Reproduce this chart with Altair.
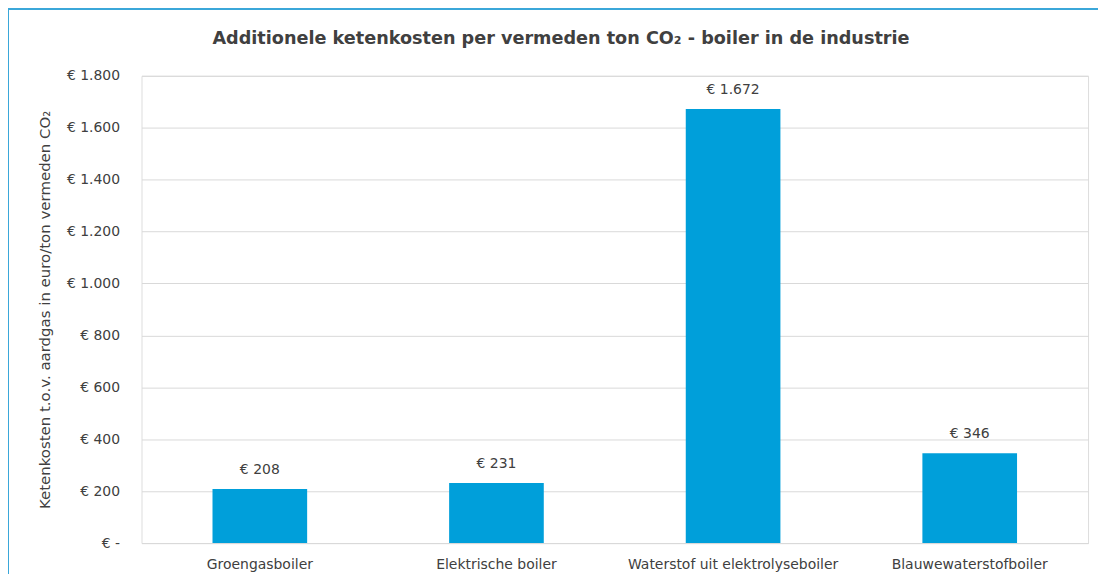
import altair as alt
import pandas as pd

categories = ["Groengasboiler", "Elektrische boiler", "Waterstof uit elektrolyseboiler", "Blauwewaterstofboiler"]
values = [208, 231, 1672, 346]
value_labels = ["€ 208", "€ 231", "€ 1.672", "€ 346"]
y_ticks = [0, 200, 400, 600, 800, 1000, 1200, 1400, 1600, 1800]
title_text = "Additionele ketenkosten per vermeden ton CO₂ - boiler in de industrie"

df = pd.DataFrame({"cat": categories, "val": values, "lab": value_labels})

FONT = "DejaVu Sans"
TXT = "#404040"

x = alt.X("cat:N", sort=categories, title=None,
          scale=alt.Scale(paddingInner=0.6, paddingOuter=0.3),
          axis=alt.Axis(labelAngle=0, labelFontSize=14, labelColor=TXT, labelFont=FONT,
                        ticks=False, domainColor="#d9d9d9", labelPadding=15, labelLimit=400))
y = alt.Y("val:Q", title="Ketenkosten t.o.v. aardgas in euro/ton vermeden CO₂",
          scale=alt.Scale(domain=[0, 1800], nice=False),
          axis=alt.Axis(values=y_ticks, grid=True, gridColor="#d9d9d9", domain=False, ticks=False,
                        labelExpr="datum.value == 0 ? '€ -' : '€ ' + replace(format(datum.value, ',d'), ',', '.')",
                        labelFontSize=14, labelColor=TXT, labelFont=FONT, labelPadding=22,
                        titleFontSize=15, titleColor=TXT, titleFont=FONT, titleFontWeight="normal",
                        titlePadding=14))

bars = alt.Chart(df).mark_bar(color="#009FDA").encode(x=x, y=y)
texts = alt.Chart(df).mark_text(dy=-19, fontSize=14, color=TXT, font=FONT).encode(
    x=alt.X("cat:N", sort=categories), y="val:Q", text="lab:N")

title = alt.Chart(pd.DataFrame({"t": [title_text]})).mark_text(
    fontSize=17.7, fontWeight="bold", color=TXT, font=FONT, baseline="middle").encode(
    x=alt.value(421), y=alt.value(-37), text="t:N")

frame_top = alt.Chart(df).mark_rule(color="#3BA7D9", strokeWidth=2).encode(
    x=alt.value(-134), x2=alt.value(970), y=alt.value(-67))
frame_left = alt.Chart(df).mark_rule(color="#3BA7D9", strokeWidth=2).encode(
    x=alt.value(-134), y=alt.value(-67), y2=alt.value(520))

chart = alt.layer(bars, texts, title, frame_top, frame_left).properties(
    width=950, height=469,
    autosize=alt.AutoSizeParams(type="none"),
    padding={"left": 134, "top": 67, "right": 10, "bottom": 30},
).configure_view(stroke="#d9d9d9").configure(background="white")

chart.save("out.html", embed_options={"renderer": "svg", "actions": False})
